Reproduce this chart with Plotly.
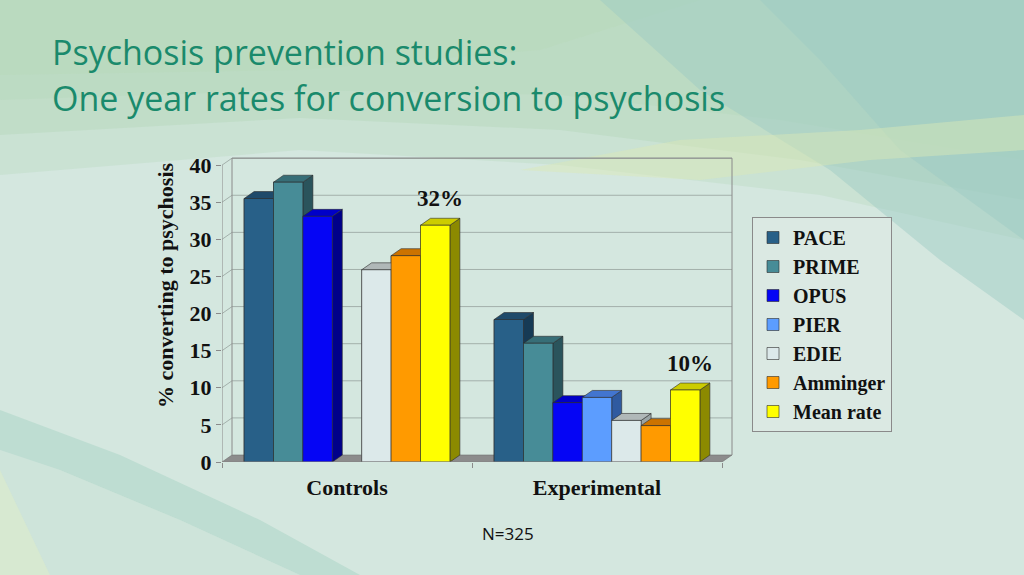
"""One-year conversion-to-psychosis rates, controls vs experimental arms (3D-look bars)."""

import plotly.graph_objects as go

W, H = 1024, 575

groups = ["Controls", "Experimental"]
studies = ["PACE", "PRIME", "OPUS", "PIER", "EDIE", "Amminger", "Mean rate"]
# % converting to psychosis per study; PIER reported no control arm
pace = [35.5, 19.2]
prime = [37.7, 16.0]
opus = [33.1, 8.0]
pier = [None, 8.7]
edie = [25.9, 5.6]
amminger = [27.8, 4.9]
mean_rate = [31.9, 9.7]
y_ticks = [0, 5, 10, 15, 20, 25, 30, 35, 40]
footnote = "N=325"

series = [pace, prime, opus, pier, edie, amminger, mean_rate]
# front, side, top colours for each study
faces = [
    ("#286088", "#163a55", "#1f4a6a"),
    ("#478c97", "#2a545c", "#376e77"),
    ("#0505f5", "#00008a", "#0000c8"),
    ("#5c9dff", "#2f5aa0", "#4275d0"),
    ("#dce9ea", "#9aa4a5", "#b0b8b8"),
    ("#ff9a00", "#a36000", "#cc7300"),
    ("#ffff00", "#8c8a00", "#cccc00"),
]

# plot box in pixels and the fake-3D depth offset in data units
L, R, T, B = 222, 287, 154, 113
X_MAX, Y_MAX = 2.06, 41.5
SLOT = 0.1176
DX, DY = 0.04, 0.94
EDGE = "#2b2b2b"
SERIF = "Liberation Serif"


def paper(px, py):
    """Pixel position on the page -> paper coordinates of the plot box."""
    pw, ph = W - L - R, H - T - B
    return (px - L) / pw, (H - B - py) / ph


def pix_path(points):
    pts = [paper(x, y) for x, y in points]
    return "M " + " L ".join(f"{x:.4f},{y:.4f}" for x, y in pts) + " Z"


fig = go.Figure()

# legend / data carriers: plain bars, covered by the polygons drawn on top
for i, (name, vals) in enumerate(zip(studies, series)):
    xs = [g + 0.5 + (i - 3) * SLOT for g in range(len(groups))]
    fig.add_trace(go.Bar(
        x=xs, y=vals, width=SLOT, name=name,
        marker=dict(color=faces[i][0], line=dict(color=EDGE, width=0.6)),
        hoverinfo="skip",
    ))

# side, top and front faces, left to right so neighbours overlap correctly
for g in range(len(groups)):
    for i, vals in enumerate(series):
        v = vals[g]
        if v is None:
            continue
        c = g + 0.5 + (i - 3) * SLOT
        lft, rgt = c - SLOT / 2, c + SLOT / 2
        front, side, top = faces[i]
        polys = [
            ([rgt, rgt + DX, rgt + DX, rgt, rgt], [0, DY, v + DY, v, 0], side),
            ([lft, lft + DX, rgt + DX, rgt, lft], [v, v + DY, v + DY, v, v], top),
            ([lft, rgt, rgt, lft, lft], [0, 0, v, v, 0], front),
        ]
        for px, py, col in polys:
            fig.add_trace(go.Scatter(
                x=px, y=py, mode="lines", fill="toself", fillcolor=col,
                line=dict(color=EDGE, width=0.6), showlegend=False,
                hoverinfo="skip",
            ))

# labels over the mean-rate bars
for g in range(len(groups)):
    v = mean_rate[g]
    fig.add_annotation(
        x=g + 0.5 + 3 * SLOT + DX / 2, y=v + DY, text=f"{round(v)}%",
        showarrow=False, yanchor="bottom", yshift=5,
        font=dict(family=SERIF, size=23, color="#111", weight="bold"),
    )

shapes = []
# background swooshes (page pixels), stacked thin layers for a soft look
bg = [
    ([(0, 0), (1024, 0), (1024, 240), (820, 195), (560, 165), (300, 150), (0, 175)], "#b4d6b8", 0.3),
    ([(0, 0), (1024, 0), (1024, 200), (800, 160), (560, 130), (300, 118), (0, 135)], "#b4d6b8", 0.4),
    ([(0, 0), (1024, 0), (1024, 160), (780, 120), (560, 95), (300, 90), (0, 100)], "#b4d6b8", 0.3),
    ([(0, 0), (700, 0), (540, 50), (300, 70), (0, 75)], "#b8d9b6", 0.35),
    ([(600, 0), (1024, 0), (1024, 320), (940, 260), (830, 170), (700, 90)], "#9ccac3", 0.45),
    ([(760, 0), (1024, 0), (1024, 240), (900, 150), (820, 60)], "#9ccac3", 0.45),
    ([(520, 170), (680, 140), (860, 130), (1024, 115), (1024, 150), (870, 160), (700, 180)], "#dbe9b6", 0.45),
    ([(0, 410), (120, 455), (260, 520), (360, 575), (300, 575), (180, 520), (60, 470), (0, 450)], "#acd6c7", 0.55),
    ([(0, 450), (60, 470), (180, 520), (300, 575), (0, 575)], "#c7e2d6", 0.5),
    ([(0, 470), (50, 575), (0, 575)], "#e0edc8", 0.5),
]
for pts, col, op in bg:
    shapes.append(dict(type="path", xref="paper", yref="paper", path=pix_path(pts),
                       fillcolor=col, opacity=op, line=dict(width=0), layer="below"))

line = dict(color="#8a8a8a", width=1)
# floor
shapes.append(dict(type="path", xref="x", yref="y", layer="below",
                   path=f"M 0,0 L 2,0 L {2 + DX},{DY} L {DX},{DY} Z",
                   fillcolor="#8c8c8c", line=dict(color="#6e6e6e", width=0.6)))
# back-wall grid, side-wall diagonals and frame
for t in y_ticks[1:]:
    shapes.append(dict(type="line", xref="x", yref="y", layer="below",
                       x0=DX, x1=2 + DX, y0=t + DY, y1=t + DY,
                       line=dict(color="#a3b0ab", width=1)))
    shapes.append(dict(type="line", xref="x", yref="y", layer="below",
                       x0=0, x1=DX, y0=t, y1=t + DY, line=dict(color="#a3b0ab", width=1)))
shapes += [
    dict(type="line", xref="x", yref="y", layer="below", x0=DX, x1=DX, y0=DY, y1=40 + DY, line=line),
    dict(type="line", xref="x", yref="y", layer="below", x0=2 + DX, x1=2 + DX, y0=DY, y1=40 + DY, line=line),
    dict(type="line", xref="x", yref="y", layer="below", x0=DX, x1=2 + DX, y0=40 + DY, y1=40 + DY, line=line),
    dict(type="line", xref="x", yref="y", x0=0, x1=0, y0=0, y1=40, line=line),
    dict(type="line", xref="x", yref="y", x0=0, x1=2, y0=0, y1=0, line=line),
]

title_font = dict(family="Open Sans", size=34, color="#1a8a6c")
for text, py in [("Psychosis prevention studies:", 52), ("One year rates for conversion to psychosis", 98)]:
    ax, ay = paper(50, py)
    fig.add_annotation(xref="paper", yref="paper", x=ax, y=ay, text=text,
                       showarrow=False, xanchor="left", yanchor="middle", font=title_font)

tx, ty = paper(165, 285)
fig.add_annotation(xref="paper", yref="paper", x=tx, y=ty, text="% converting to psychosis",
                   textangle=-90, showarrow=False, xanchor="center", yanchor="middle",
                   font=dict(family=SERIF, size=22, color="#111", weight="bold"))

nx, ny = paper(508, 533)
fig.add_annotation(xref="paper", yref="paper", x=nx, y=ny, text=footnote, showarrow=False,
                   xanchor="center", yanchor="middle",
                   font=dict(family="Open Sans", size=17, color="#111"))

lx, ly = paper(752, 217)
fig.update_layout(
    width=W, height=H,
    margin=dict(l=L, r=R, t=T, b=B, pad=0),
    paper_bgcolor="#d4e7df", plot_bgcolor="rgba(0,0,0,0)",
    barmode="overlay", shapes=shapes,
    legend=dict(x=lx, y=ly, xanchor="left", yanchor="top",
                bgcolor="#dbe9e3", bordercolor="#8a8a8a", borderwidth=1,
                itemclick=False,
                font=dict(family=SERIF, size=20, color="#111", weight="bold")),
    xaxis=dict(range=[0, X_MAX], showgrid=False, zeroline=False, showline=False,
               tickvals=[0.5, 1.5], ticktext=groups, ticks="outside", ticklen=6,
               tickcolor="rgba(0,0,0,0)",
               tickfont=dict(family=SERIF, size=22, color="#111", weight="bold"),
               minor=dict(tickmode="array", tickvals=[0, 1, 2], ticks="outside",
                          ticklen=5, tickcolor="#8a8a8a")),
    yaxis=dict(range=[0, Y_MAX], showgrid=False, zeroline=False, showline=False,
               tickvals=y_ticks, ticks="outside", ticklen=5, tickcolor="#8a8a8a",
               tickfont=dict(family=SERIF, size=22, color="#111", weight="bold")),
)

# drop the page's default body margin so the figure fills the window
fig.write_html("out.html", config={"displayModeBar": False},
               post_script="document.body.style.margin = '0';")
